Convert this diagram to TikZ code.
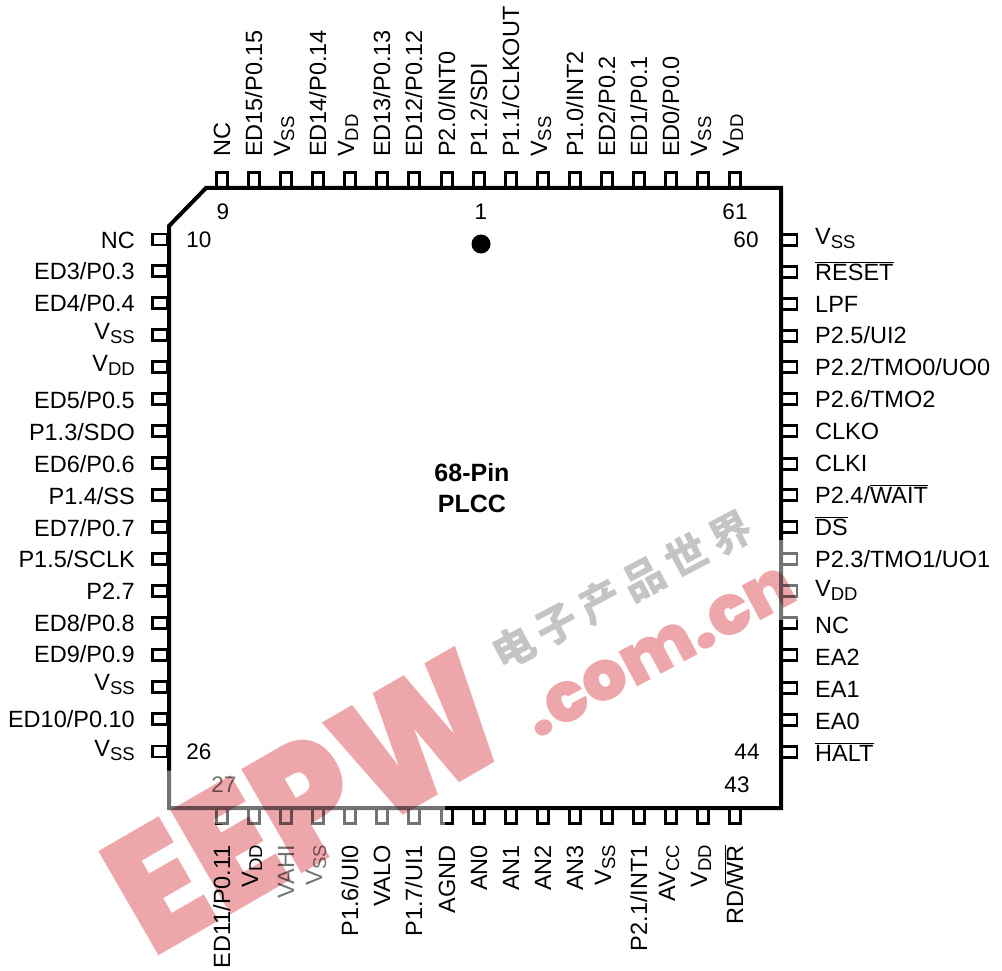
\documentclass[tikz,border=0pt]{standalone}
\usepackage{fontspec}
\setmainfont{Liberation Sans}
\newfontfamily\cjkfont{Noto Sans CJK SC}
\newfontfamily\markfont{Poppins Black}
\newcommand{\pinsub}[2]{\raisebox{4pt}{#1\raisebox{-4pt}{\fontsize{18.5}{18.5}\selectfont #2}}}
\newcommand{\ovl}[1]{$\overline{\hbox{#1}}$}
\definecolor{wmpink}{HTML}{EDA7AB}
\definecolor{wmgrey}{HTML}{C4C4C4}
\tikzset{
  pinh/.style={draw,line width=2.4pt,minimum width=15pt,minimum height=11pt,inner sep=0pt,outer sep=0pt},
  pinv/.style={draw,line width=2.4pt,minimum width=11pt,minimum height=15pt,inner sep=0pt,outer sep=0pt},
  pinname/.style={font=\fontsize{23.5}{24}\selectfont,inner sep=0pt,text height=16pt,text depth=0pt},
  leftname/.style={pinname,anchor=east},
  rightname/.style={pinname,anchor=west},
  topname/.style={pinname,rotate=90,anchor=west},
  botname/.style={pinname,rotate=90,anchor=east},
  pinnum/.style={font=\fontsize{22.5}{23}\selectfont,inner sep=0pt},
  wmark/.style={text=wmpink,inner sep=0pt,rotate=30}
}
\begin{document}
\begin{tikzpicture}[x=1pt,y=-1pt]
  \useasboundingbox (0,0) rectangle (1002,971);

  % package outline
  \draw[line width=4pt,line join=miter] (169,226) -- (206,188) -- (781,188) -- (781,808) -- (169,808) -- cycle;

  % top side
  \node[pinv] (9) at (222,180) {};  \node[topname] (n9) at (222,157) {NC};
  \node[pinv] (8) at (254,180) {};  \node[topname] (n8) at (254,157) {ED15/P0.15};
  \node[pinv] (7) at (286,180) {};  \node[topname] (n7) at (286,157) {\pinsub{V}{SS}};
  \node[pinv] (6) at (318,180) {};  \node[topname] (n6) at (318,157) {ED14/P0.14};
  \node[pinv] (5) at (350,180) {};  \node[topname] (n5) at (350,157) {\pinsub{V}{DD}};
  \node[pinv] (4) at (382,180) {};  \node[topname] (n4) at (382,157) {ED13/P0.13};
  \node[pinv] (3) at (414,180) {};  \node[topname] (n3) at (414,157) {ED12/P0.12};
  \node[pinv] (2) at (447,180) {};  \node[topname] (n2) at (447,157) {P2.0/INT0};
  \node[pinv] (1) at (479,180) {};  \node[topname] (n1) at (479,157) {P1.2/SDI};
  \node[pinv] (68) at (511,180) {}; \node[topname] (n68) at (511,157) {P1.1/CLKOUT};
  \node[pinv] (67) at (543,180) {}; \node[topname] (n67) at (543,157) {\pinsub{V}{SS}};
  \node[pinv] (66) at (575,180) {}; \node[topname] (n66) at (575,157) {P1.0/INT2};
  \node[pinv] (65) at (607,180) {}; \node[topname] (n65) at (607,157) {ED2/P0.2};
  \node[pinv] (64) at (639,180) {}; \node[topname] (n64) at (639,157) {ED1/P0.1};
  \node[pinv] (63) at (671,180) {}; \node[topname] (n63) at (671,157) {ED0/P0.0};
  \node[pinv] (62) at (703,180) {}; \node[topname] (n62) at (703,157) {\pinsub{V}{SS}};
  \node[pinv] (61) at (735,180) {}; \node[topname] (n61) at (735,157) {\pinsub{V}{DD}};

  % left side
  \node[pinh] (10) at (160,239.5) {}; \node[leftname] (n10) at (135,240) {NC};
  \node[pinh] (11) at (160,271) {}; \node[leftname] (n11) at (135,271) {ED3/P0.3};
  \node[pinh] (12) at (160,303) {}; \node[leftname] (n12) at (135,303) {ED4/P0.4};
  \node[pinh] (13) at (160,335) {}; \node[leftname] (n13) at (135,335) {\pinsub{V}{SS}};
  \node[pinh] (14) at (160,367) {}; \node[leftname] (n14) at (135,367) {\pinsub{V}{DD}};
  \node[pinh] (15) at (160,399) {}; \node[leftname] (n15) at (135,400) {ED5/P0.5};
  \node[pinh] (16) at (160,431) {}; \node[leftname] (n16) at (135,432) {P1.3/SDO};
  \node[pinh] (17) at (160,463) {}; \node[leftname] (n17) at (135,464) {ED6/P0.6};
  \node[pinh] (18) at (160,495) {}; \node[leftname] (n18) at (135,496) {P1.4/SS};
  \node[pinh] (19) at (160,527) {}; \node[leftname] (n19) at (135,528) {ED7/P0.7};
  \node[pinh] (20) at (160,559) {}; \node[leftname] (n20) at (135,559) {P1.5/SCLK};
  \node[pinh] (21) at (160,591) {}; \node[leftname] (n21) at (135,591) {P2.7};
  \node[pinh] (22) at (160,623) {}; \node[leftname] (n22) at (135,623) {ED8/P0.8};
  \node[pinh] (23) at (160,655) {}; \node[leftname] (n23) at (135,654) {ED9/P0.9};
  \node[pinh] (24) at (160,687) {}; \node[leftname] (n24) at (135,686) {\pinsub{V}{SS}};
  \node[pinh] (25) at (160,719) {}; \node[leftname] (n25) at (135,719) {ED10/P0.10};
  \node[pinh] (26) at (160,751.5) {}; \node[leftname] (n26) at (135,752) {\pinsub{V}{SS}};

  % bottom side
  \node[pinv] (27) at (222,816) {}; \node[botname] (n27) at (222,845) {ED11/P0.11};
  \node[pinv] (28) at (254,816) {}; \node[botname] (n28) at (254,845) {\pinsub{V}{DD}};
  \node[pinv] (29) at (286,816) {}; \node[botname] (n29) at (286,845) {VAHI};
  \node[pinv] (30) at (318,816) {}; \node[botname] (n30) at (318,845) {\pinsub{V}{SS}};
  \node[pinv] (31) at (350,816) {}; \node[botname] (n31) at (350,845) {P1.6/UI0};
  \node[pinv] (32) at (382,816) {}; \node[botname] (n32) at (382,845) {VALO};
  \node[pinv] (33) at (414,816) {}; \node[botname] (n33) at (414,845) {P1.7/UI1};
  \node[pinv] (34) at (447,816) {}; \node[botname] (n34) at (447,845) {AGND};
  \node[pinv] (35) at (479,816) {}; \node[botname] (n35) at (479,845) {AN0};
  \node[pinv] (36) at (511,816) {}; \node[botname] (n36) at (511,845) {AN1};
  \node[pinv] (37) at (543,816) {}; \node[botname] (n37) at (543,845) {AN2};
  \node[pinv] (38) at (575,816) {}; \node[botname] (n38) at (575,845) {AN3};
  \node[pinv] (39) at (607,816) {}; \node[botname] (n39) at (607,845) {\pinsub{V}{SS}};
  \node[pinv] (40) at (639,816) {}; \node[botname] (n40) at (639,845) {P2.1/INT1};
  \node[pinv] (41) at (671,816) {}; \node[botname] (n41) at (671,845) {\pinsub{AV}{CC}};
  \node[pinv] (42) at (703,816) {}; \node[botname] (n42) at (703,845) {\pinsub{V}{DD}};
  \node[pinv] (43) at (735,816) {}; \node[botname] (n43) at (735,845) {RD/\ovl{WR}};

  % right side
  \node[pinh] (60) at (789.5,240) {}; \node[rightname] (n60) at (815,240) {\pinsub{V}{SS}};
  \node[pinh] (59) at (789.5,272) {}; \node[rightname] (n59) at (815,272) {\ovl{RESET}};
  \node[pinh] (58) at (789.5,304) {}; \node[rightname] (n58) at (815,304) {LPF};
  \node[pinh] (57) at (789.5,336) {}; \node[rightname] (n57) at (815,335) {P2.5/UI2};
  \node[pinh] (56) at (789.5,367) {}; \node[rightname] (n56) at (815,367) {P2.2/TMO0/UO0};
  \node[pinh] (55) at (789.5,399) {}; \node[rightname] (n55) at (815,399) {P2.6/TMO2};
  \node[pinh] (54) at (789.5,431) {}; \node[rightname] (n54) at (815,431) {CLKO};
  \node[pinh] (53) at (789.5,464) {}; \node[rightname] (n53) at (815,463) {CLKI};
  \node[pinh] (52) at (789.5,495) {}; \node[rightname] (n52) at (815,495) {P2.4/\ovl{WAIT}};
  \node[pinh] (51) at (789.5,527) {}; \node[rightname] (n51) at (815,527) {\ovl{DS}};
  \node[pinh] (50) at (789.5,559) {}; \node[rightname] (n50) at (815,559) {P2.3/TMO1/UO1};
  \node[pinh] (49) at (789.5,591) {}; \node[rightname] (n49) at (815,592) {\pinsub{V}{DD}};
  \node[pinh] (48) at (789.5,623) {}; \node[rightname] (n48) at (815,625) {NC};
  \node[pinh] (47) at (789.5,655) {}; \node[rightname] (n47) at (815,657) {EA2};
  \node[pinh] (46) at (789.5,688) {}; \node[rightname] (n46) at (815,689) {EA1};
  \node[pinh] (45) at (789.5,720) {}; \node[rightname] (n45) at (815,721) {EA0};
  \node[pinh] (44) at (789.5,752) {}; \node[rightname] (n44) at (815,753) {\ovl{HALT}};

  % pin numbers
  \node[pinnum] (num9) at (223,212) {9};
  \node[pinnum] (num1) at (481,212) {1};
  \node[pinnum] (num61) at (735,212) {61};
  \node[pinnum] (num10) at (199,240) {10};
  \node[pinnum] (num60) at (746,240) {60};
  \node[pinnum] (num26) at (199,752) {26};
  \node[pinnum] (num44) at (747,752) {44};
  \node[pinnum] (num27) at (224,785) {27};
  \node[pinnum] (num43) at (737,785) {43};

  \node[circle,fill=black,minimum size=19pt,inner sep=0pt] (dot1) at (481,244) {};
  \node[font=\bfseries\fontsize{25}{31}\selectfont,align=center,inner sep=0pt] (pkg) at (472,488) {68-Pin\\PLCC};

  % overprint
  \fill[white,opacity=.45] (160,770) -- (230,775) -- (445,800) -- (445,832) -- (335,832) -- (335,900) -- (270,900) -- (270,832) -- (160,815) -- cycle;
  \fill[white,opacity=.45] (775,540) -- (800,540) -- (800,620) -- (775,620) -- cycle;
  \begin{scope}[blend mode=multiply]
    \node[wmark,font=\markfont\fontsize{170}{170}\selectfont] (markA) at (306,802) {\scalebox{.87}[1]{EEPW}};
    \node[wmark,font=\markfont\fontsize{70}{70}\selectfont,rotate=-2] (markB) at (660,652) {.com.cn};
    \node[font=\cjkfont\bfseries\fontsize{42}{42}\selectfont,text=wmgrey,rotate=28,inner sep=0pt] (markC) at (622,590) {电\hspace{7pt}子\hspace{7pt}产\hspace{7pt}品\hspace{7pt}世\hspace{7pt}界};
  \end{scope}
\end{tikzpicture}
\end{document}
